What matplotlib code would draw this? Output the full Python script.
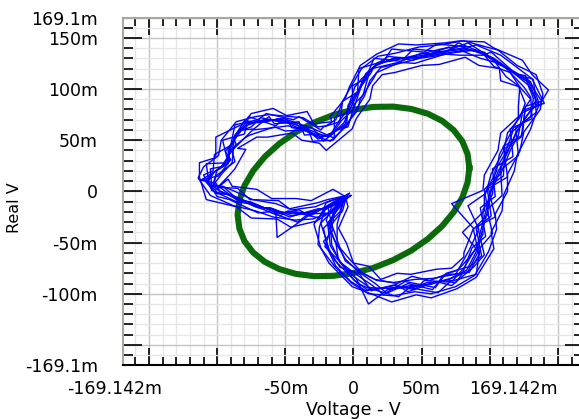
import numpy as np
import matplotlib
matplotlib.use("Agg")
import matplotlib.pyplot as plt

plt.rcParams['font.family'] = ['DejaVu Sans']

# values in mV
green_v = [85.0, 83.7, 79.9, 73.6, 65.1, 54.6, 42.5, 29.1, 14.8, 0.0, -14.8, -29.1,
           -42.5, -54.6, -65.1, -73.6, -79.9, -83.7, -85.0, -83.7, -79.9, -73.6, -65.1, -54.6,
           -42.5, -29.1, -14.8, 0.0, 14.8, 29.1, 42.5, 54.6, 65.1, 73.6, 79.9, 83.7, 85.0]
green_r = [22.9, 36.4, 48.8, 59.7, 68.8, 75.8, 80.5, 82.8, 82.5, 79.8, 74.6, 67.1,
           57.7, 46.4, 33.8, 20.1, 5.8, -8.7, -22.9, -36.4, -48.8, -59.7, -68.8, -75.8,
           -80.5, -82.8, -82.5, -79.8, -74.6, -67.1, -57.7, -46.4, -33.8, -20.1, -5.8, 8.7, 22.9]

blue_v_a = [-5, -12, -17, -16, -10, 1, 12, 27, 42, 56, 71, 83, 90, 93, 97, 100, 106, 113, 119, 128,
            134, 129, 117, 106, 95, 80, 66, 47, 29, 17, 10, 4, -2, -7, -15, -24, -33, -42, -53, -66,
            -77, -85, -90, -93, -102, -107, -99, -88, -73, -58, -44, -29, -17, -5]
blue_r_a = [-6, -16, -32, -52, -69, -84, -94, -95, -92, -91, -85, -77, -59, -40, -20, -1, 19, 38, 57, 75,
            89, 106, 116, 126, 135, 140, 137, 132, 129, 124, 114, 98, 82, 67, 57, 53, 59, 65, 69, 70,
            65, 57, 43, 28, 19, 9, 1, -6, -13, -19, -22, -20, -14, -6]
blue_v_b = [-3, -15, -20, -14, -6, 4, 16, 24, 38, 60, 68, 86, 94, 90, 101, 98, 110, 111, 123, 126,
            140, 131, 121, 103, 98, 84, 62, 50, 33, 14, 12, 7, 1, -4, -12, -22, -30, -45, -50, -70,
            -80, -88, -86, -97, -105, -104, -95, -84, -76, -55, -40, -32, -14, -3]
blue_r_b = [-2, -12, -28, -48, -66, -79, -90, -99, -88, -94, -80, -73, -63, -36, -24, 4, 15, 42, 53, 80,
            86, 110, 113, 130, 133, 145, 134, 135, 126, 120, 118, 94, 86, 63, 60, 49, 62, 62, 72, 67,
            69, 52, 46, 24, 22, 5, 4, -9, -10, -22, -18, -24, -10, -2]
blue_v_c = [-8, -10, -22, -19, -13, -2, 9, 30, 45, 52, 75, 80, 87, 97, 93, 104, 102, 117, 115, 131,
            130, 125, 112, 110, 90, 76, 70, 43, 26, 20, 6, 1, -5, -10, -18, -27, -36, -40, -58, -62,
            -73, -82, -94, -90, -99, -110, -101, -91, -70, -61, -47, -26, -20, -8]
blue_r_c = [-10, -20, -36, -56, -73, -88, -97, -92, -96, -87, -89, -80, -55, -44, -16, -5, 22, 34, 61, 71,
            92, 102, 120, 122, 138, 136, 141, 128, 132, 127, 110, 102, 78, 70, 53, 56, 55, 68, 66, 73,
            61, 60, 39, 31, 15, 12, -2, -3, -16, -16, -25, -17, -17, -10]
blue_v_d = [-2, -14, -15, -21, -8, 3, 14, 22, 40, 58, 66, 85, 92, 88, 99, 96, 108, 115, 121, 124,
            136, 127, 115, 108, 93, 82, 68, 45, 31, 15, 13, 2, -4, -5, -13, -26, -31, -44, -55, -64,
            -79, -87, -88, -95, -100, -103, -97, -86, -75, -56, -42, -31, -15, -2]
blue_r_d = [-4, -18, -30, -54, -71, -82, -92, -101, -90, -96, -82, -79, -62, -37, -22, 2, 17, 40, 55, 77,
            84, 108, 118, 124, 137, 138, 135, 130, 131, 122, 116, 96, 84, 65, 59, 51, 57, 64, 71, 68,
            67, 55, 45, 26, 21, 7, 3, -8, -11, -21, -20, -22, -12, -4]
blue_v_e = [-6, -13, -18, -13, -11, 0, 10, 29, 44, 54, 73, 81, 89, 95, 95, 102, 104, 111, 117, 130,
            132, 128, 119, 104, 97, 78, 64, 49, 27, 18, 8, 5, 0, -9, -16, -23, -34, -41, -51, -68,
            -75, -83, -92, -91, -104, -108, -100, -89, -72, -59, -45, -28, -18, -6]
blue_r_e = [-8, -14, -34, -50, -67, -86, -96, -94, -94, -89, -87, -75, -57, -42, -18, -3, 21, 36, 59, 73,
            91, 104, 114, 128, 133, 142, 139, 134, 127, 126, 112, 100, 80, 69, 55, 55, 61, 67, 67, 72,
            63, 59, 41, 30, 17, 11, -1, -4, -15, -17, -24, -19, -15, -8]
blue_v_f = [-4, -11, -19, -17, -9, 2, 11, 25, 43, 57, 70, 84, 91, 94, 98, 101, 107, 112, 120, 127,
            136, 130, 118, 105, 96, 81, 65, 48, 30, 16, 9, 3, -3, -6, -14, -25, -32, -43, -52, -67,
            -78, -86, -91, -92, -112, -101, -98, -87, -74, -57, -56, -30, -16, -4]
blue_r_f = [-5, -17, -31, -53, -70, -85, -110, -96, -93, -90, -86, -78, -60, -41, -21, 0, 18, 37, 58, 74,
            87, 107, 117, 125, 136, 139, 136, 131, 130, 123, 115, 97, 83, 66, 58, 52, 58, 66, 70, 69,
            66, 56, 42, 27, 11, 8, 0, -5, -12, -20, -45, -21, -13, -5]
blue_v_g = [-4, -22, -29, -24, -18, -1, 9, 28, 46, 57, 76, 90, 103, 101, 109, 110, 118, 120, 130, 135,
            143, 131, 124, 103, 96, 78, 67, 46, 33, 17, 5, -3, -6, -17, -16, -29, -34, -49, -59, -75,
            -81, -101, -101, -113, -113, -108, -86, -75, -56, -46, -27, -19, -4]
blue_r_g = [-3, -19, -32, -55, -70, -93, -98, -108, -101, -104, -95, -84, -56, -40, -19, -4, 20, 35, 61, 81,
            99, 114, 128, 140, 146, 147, 145, 143, 144, 134, 123, 102, 91, 73, 68, 66, 78, 74, 81, 76,
            66, 53, 33, 28, 14, -8, -15, -26, -27, -35, -29, -22, -3]
blue_v_h = [-6, -4, -11, -5, 0, 11, 20, 32, 42, 61, 72, 81, 81, 88, 72, 95, 96, 106, 108, 121,
            121, 122, 108, 107, 92, 82, 63, 50, 30, 21, 14, 12, 2, -1, -20, -25, -38, -45, -63, -71,
            -85, -79, -87, -91, -101, -92, -89, -71, -60, -42, -31, -15, -6]
blue_r_h = [-5, -15, -36, -51, -70, -73, -86, -80, -81, -76, -75, -64, -60, -36, -12, 1, 16, 40, 57, 73,
            83, 102, 108, 120, 123, 131, 124, 123, 116, 114, 103, 90, 71, 61, 40, 47, 50, 57, 53, 53,
            42, 41, 22, 16, 2, 12, 5, 2, -7, -7, -9, 2, -5]
blue_v_i = [-5, -16, -24, -18, -14, 3, 10, 33, 41, 62, 71, 90, 93, 102, 98, 109, 108, 121, 119, 134,
            133, 132, 116, 108, 90, 84, 61, 52, 28, 22, 4, 3, -8, -10, -22, -24, -40, -44, -64, -70,
            -87, -90, -102, -103, -110, -100, -91, -70, -62, -41, -33, -14, -5]
blue_r_i = [-4, -20, -31, -56, -67, -90, -94, -103, -94, -99, -88, -81, -55, -41, -18, -4, 21, 35, 62, 77,
            97, 109, 125, 133, 143, 141, 144, 136, 139, 127, 120, 97, 88, 68, 63, 60, 73, 70, 76, 70,
            65, 45, 36, 20, 16, -5, -8, -21, -20, -30, -22, -21, -4]
blue_v_j = [-5, -8, -16, -10, -6, 8, 16, 32, 43, 56, 76, 80, 90, 80, 96, 96, 105, 107, 117, 121,
            130, 122, 115, 103, 96, 78, 67, 45, 34, 17, 15, 5, 3, -8, -15, -30, -33, -50, -58, -76,
            -80, -89, -87, -101, -102, -99, -85, -76, -55, -47, -26, -19, -5]
blue_r_j = [-4, -19, -32, -55, -68, -81, -86, -90, -83, -87, -77, -72, -56, -40, -19, -3, 20, 36, 61, 72,
            90, 102, 116, 122, 133, 133, 134, 125, 126, 116, 111, 90, 79, 61, 50, 49, 60, 59, 63, 55,
            52, 40, 29, 15, 9, 4, 3, -8, -9, -17, -11, -8, -4]
blue_v_k = [-5, -19, -15, -22, -10, 4, 13, 31, 40, 61, 72, 88, 96, 91, 104, 99, 113, 110, 124, 126,
            138, 126, 119, 101, 97, 77, 68, 44, 35, 15, 9, -1, 0, -14, -14, -31, -31, -51, -57, -77,
            -80, -96, -92, -108, -106, -104, -86, -77, -54, -48, -25, -20, -5]
blue_r_k = [-4, -14, -38, -49, -74, -80, -97, -91, -98, -88, -92, -74, -62, -34, -25, 3, 14, 44, 55, 83,
            88, 113, 115, 136, 134, 145, 136, 139, 127, 130, 110, 103, 79, 72, 52, 62, 62, 71, 64, 73,
            56, 50, 28, 27, 8, 1, -10, -12, -24, -19, -26, -11, -4]
blue_v_l = [-6, -9, -12, -12, -3, 6, 17, 29, 45, 58, 75, 80, 85, 92, 84, 97, 101, 110, 113, 122,
            126, 121, 112, 104, 93, 80, 64, 49, 31, 20, 12, 8, 0, -5, -17, -28, -35, -48, -60, -74,
            -80, -88, -89, -96, -103, -96, -87, -74, -57, -45, -28, -17, -6]
blue_r_l = [-5, -18, -32, -52, -66, -79, -87, -89, -86, -85, -81, -69, -57, -37, -14, -2, 17, 39, 57, 72,
            86, 103, 112, 126, 130, 137, 133, 130, 124, 121, 108, 93, 76, 64, 49, 54, 59, 64, 62, 60,
            52, 43, 28, 18, 6, 5, 0, -8, -12, -18, -15, -9, -5]
blue_v_m = [-4, -21, -25, -26, -14, -1, 11, 29, 45, 57, 75, 89, 99, 105, 104, 113, 113, 122, 125, 137,
            139, 134, 120, 106, 92, 81, 63, 48, 31, 18, 6, -2, -8, -13, -20, -26, -37, -46, -62, -72,
            -86, -97, -99, -110, -114, -105, -88, -72, -59, -43, -30, -16, -4]
blue_r_m = [-3, -18, -35, -52, -73, -90, -100, -102, -98, -100, -93, -82, -59, -37, -22, 0, 17, 39, 58, 80,
            95, 114, 123, 138, 143, 147, 143, 141, 135, 132, 120, 102, 88, 70, 64, 63, 72, 73, 75, 73,
            68, 50, 35, 24, 13, -4, -14, -19, -25, -28, -27, -20, -3]

blue_traces = [(blue_v_a, blue_r_a), (blue_v_b, blue_r_b), (blue_v_c, blue_r_c),
               (blue_v_d, blue_r_d), (blue_v_e, blue_r_e), (blue_v_f, blue_r_f),
               (blue_v_g, blue_r_g), (blue_v_h, blue_r_h), (blue_v_i, blue_r_i),
               (blue_v_j, blue_r_j), (blue_v_k, blue_r_k), (blue_v_l, blue_r_l),
               (blue_v_m, blue_r_m)]

x_ticks = [-150, -100, -50, 0, 50, 100, 150]
x_labels = ['', '', '-50m', '0', '50m', '', '']
y_ticks = [-169.1, -150, -100, -50, 0, 50, 100, 150, 169.1]
y_labels = ['-169.1m', '', '-100m', '-50m', '0', '50m', '100m', '150m', '169.1m']

fig = plt.figure(figsize=(5.79, 4.19), dpi=100)
ax = fig.add_axes([0.2124, 0.130, 0.7962, 0.8265])

ax.plot(green_v, green_r, color='#0b6b0b', lw=4.4, solid_joinstyle='round')
for v, r in blue_traces:
    ax.plot(v, r, color='#0000ff', lw=1.0)

ax.set_xlim(-169.1, 169.1)
ax.set_ylim(-169.1, 169.1)

ax.set_xticks(x_ticks, labels=x_labels)
ax.set_yticks(y_ticks, labels=y_labels)
ax.set_xticks(np.arange(-160, 170, 10), minor=True)
ax.set_yticks(np.arange(-160, 170, 10), minor=True)

# end labels of the x axis sit off-centre in the original
xt = ax.get_xaxis_transform()
ax.text(-140.5, -0.045, '-169.142m', transform=xt, ha='right', va='top', fontsize=12.5)
ax.text(150, -0.045, '169.142m', transform=xt, ha='right', va='top', fontsize=12.5)

ax.grid(which='major', color='#c4c4c4', lw=1.0)
ax.grid(which='minor', color='#e6e6e6', lw=0.9)
ax.set_axisbelow(True)

ax.tick_params(axis='x', which='major', direction='in', length=12, width=1.2,
               top=True, labelsize=12.5, pad=11)
ax.tick_params(axis='x', which='minor', direction='in', length=5.5, width=1.2, top=True)
ax.tick_params(axis='y', which='major', direction='in', length=14, width=1.2,
               right=True, labelsize=12.5, pad=18)
ax.tick_params(axis='y', which='minor', direction='in', length=7, width=1.2, right=True)

for s in ['left', 'top', 'right']:
    ax.spines[s].set_color('#a8a8a0')
    ax.spines[s].set_linewidth(1.5)
ax.spines['bottom'].set_color('black')
ax.spines['bottom'].set_linewidth(1.5)

ax.set_xlabel('Voltage - V', fontsize=12.5, labelpad=2)
ax.set_ylabel('Real V', fontsize=11.5)
ax.yaxis.set_label_coords(-0.219, 0.452)

fig.savefig('out.png', dpi=100)
